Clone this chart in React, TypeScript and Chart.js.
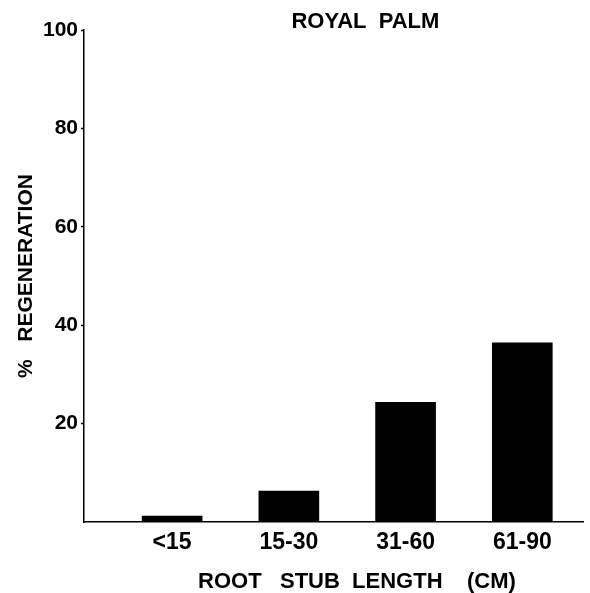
import React, { useEffect, useRef } from "react";
import { Chart, registerables } from "chart.js";

Chart.register(...registerables);

const categories = ["<15", "15-30", "31-60", "61-90"];
const regeneration = [1.2, 6.3, 24.3, 36.4];
const yTicks = [20, 40, 60, 80, 100];
const chartTitle = "ROYAL  PALM";
const xTitle = "ROOT   STUB  LENGTH    (CM)";
const yTitle = "%   REGENERATION";

const FONT = '"Liberation Sans", Arial, Helvetica, sans-serif';

export default function App() {
  const ref = useRef<HTMLCanvasElement | null>(null);

  useEffect(() => {
    if (!ref.current) return;
    const titlesPlugin = {
      id: "titles",
      afterDraw(chart: any) {
        const { ctx, chartArea } = chart;
        const w = chartArea.right - chartArea.left;
        ctx.save();
        ctx.fillStyle = "#000";
        ctx.textAlign = "center";
        ctx.textBaseline = "alphabetic";
        ctx.font = `bold 22px ${FONT}`;
        ctx.fillText(chartTitle, chartArea.left + 0.564 * w, 28);
        ctx.fillText(xTitle, chartArea.left + 0.547 * w, 588);
        ctx.restore();
      },
    };
    const chart = new Chart(ref.current, {
      type: "bar",
      data: {
        labels: categories,
        datasets: [
          {
            data: regeneration.map((v, i) => ({ x: i, y: v })) as any,
            backgroundColor: "#000",
            borderWidth: 0,
            barThickness: 60,
          },
        ],
      },
      options: {
        animation: false,
        responsive: true,
        maintainAspectRatio: false,
        layout: { padding: { top: 30, right: 7, bottom: 0, left: 0 } },
        plugins: {
          legend: { display: false },
          tooltip: { enabled: false },
        },
        scales: {
          x: {
            type: "linear",
            offset: false,
            min: -0.755,
            max: 3.52,
            afterBuildTicks: (scale: any) => {
              scale.ticks = categories.map((_, i) => ({ value: i }));
            },
            afterFit: (scale: any) => {
              scale.height = 71;
            },
            grid: { display: false, drawTicks: false, offset: false },
            border: { display: true, color: "#000", width: 1.5 },
            ticks: {
              padding: 7,
              color: "#000",
              font: { family: FONT, size: 23, weight: "bold" },
              callback: (v: any) => categories[Math.round(Number(v))] ?? "",
              maxRotation: 0,
              autoSkip: false,
            },
          },
          y: {
            min: 0,
            max: 100,
            afterBuildTicks: (scale: any) => {
              scale.ticks = [0, ...yTicks].map((v) => ({ value: v }));
            },
            afterFit: (scale: any) => {
              scale.width = 84;
            },
            grid: {
              display: true,
              drawOnChartArea: false,
              drawTicks: true,
              tickLength: 3,
              tickColor: (c: any) => (c.tick && c.tick.value === 0 ? "rgba(0,0,0,0)" : "#000"),
              tickWidth: 1.5,
            },
            border: { display: true, color: "#000", width: 1.5 },
            ticks: {
              padding: 3,
              color: "#000",
              font: { family: FONT, size: 21, weight: "bold" },
              callback: (v: any) => (Number(v) === 0 ? "" : String(v)),
            },
            title: {
              display: true,
              text: yTitle,
              color: "#000",
              font: { family: FONT, size: 21, weight: "bold" },
              padding: { top: 14, bottom: 0 },
            },
          },
        },
      },
      plugins: [titlesPlugin],
    });
    return () => chart.destroy();
  }, []);

  return (
    <div style={{ position: "fixed", left: 0, top: 0, width: 590, height: 593, background: "#fff" }}>
      <canvas ref={ref} />
    </div>
  );
}
